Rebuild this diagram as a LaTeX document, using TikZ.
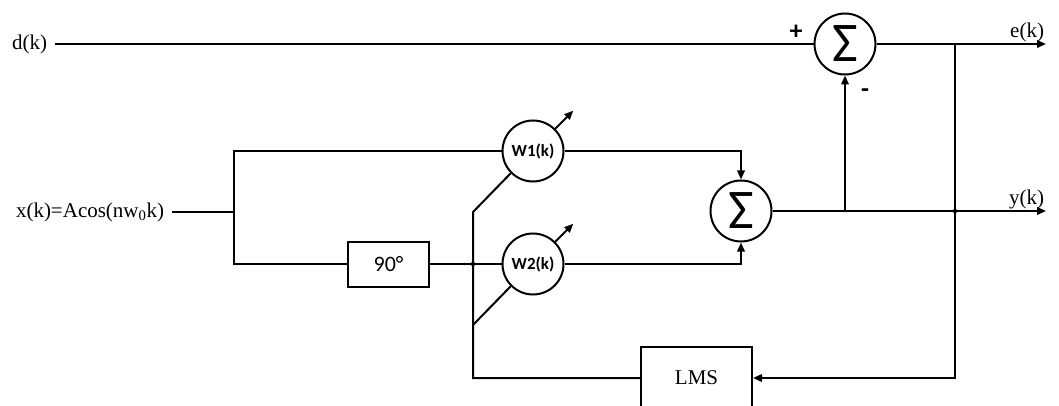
\documentclass[tikz,border=0pt]{standalone}
\usepackage{fontspec}
\setmainfont{Liberation Serif}
\newfontfamily\calib{Carlito}
\usetikzlibrary{positioning, arrows.meta}

\begin{document}
\begin{tikzpicture}[x=1pt, y=1pt, line width=2pt, >={Triangle[length=9pt, width=7.5pt]},
    sumnode/.style={circle, draw, minimum size=61pt, inner sep=0pt, font=\calib\fontsize{56}{56}\selectfont},
    wnode/.style={circle, draw, minimum size=61pt, inner sep=0pt, font=\calib\bfseries\fontsize{17}{17}\selectfont},
    blockbox/.style={rectangle, draw, inner sep=0pt},
    insig/.style={font=\fontsize{21}{21}\selectfont, inner xsep=7pt, inner ysep=2pt, anchor=east},
    outsig/.style={font=\fontsize{21}{21}\selectfont, inner sep=1pt, anchor=south east},
    signlbl/.style={font=\calib\bfseries\fontsize{26}{26}\selectfont, inner sep=0pt},
    junc/.style={circle, fill, inner sep=0pt, minimum size=4.5pt}]

    \useasboundingbox (0,0) rectangle (1059,-406);

    % Sumadores, pesos y bloques
    \node[sumnode] (sumE) at (845,-44) {Σ};
    \node[sumnode] (sumY) at (741,-211) {Σ};
    \node[wnode] (W1) at (533,-151) {W1(k)};
    \node[wnode] (W2) at (533,-264) {W2(k)};
    \node[blockbox, minimum width=81pt, minimum height=45pt, font=\calib\fontsize{22}{22}\selectfont] (shift) at (388.5,-264) {90°};
    \node[blockbox, minimum width=111pt, minimum height=62pt, font=\fontsize{21}{21}\selectfont] (lms) at (696.5,-378) {LMS};

    % Entradas y salidas
    \node[insig] (dk) at (55,-44) {d(k)};
    \node[insig] (xk) at (172,-212) {x(k)=Acos(nw\textsubscript{0}k)};
    \coordinate (split) at (234,-212);
    \coordinate (tap) at (473,-264);
    \coordinate (adj1) at (473,-212);
    \coordinate (adj2) at (473,-325);
    \coordinate (ebr) at (955,-44);
    \coordinate (ybr) at (845,-211);
    \coordinate (eout) at (1046,-44);
    \coordinate (yout) at (1046,-211);
    \node[outsig] (ek) at (eout) {e(k)};
    \node[outsig] (yk) at (yout) {y(k)};

    % Signos del sumador de error
    \node[signlbl] (plus) at (796,-32) {+};
    \node[signlbl] (minus) at (865,-93) {-};

    % Rama de referencia y error
    \draw (dk) -- (sumE);
    \draw[->] (sumE) -- (eout);

    % Entrada y desfase de 90
    \draw (xk) -- (split);
    \draw (W1) -- (split |- W1) -- (split |- shift) -- (shift);
    \draw (shift) -- (W2);

    % Salida del combinador
    \draw[->] (W1) -| (sumY);
    \draw[->] (W2) -| (sumY);
    \draw[->] (sumY) -- (yout);
    \draw[->] (ybr) -- (sumE);

    % Lazo de adaptacion
    \draw[->] (ebr) -- (ebr |- lms) -- (lms);
    \draw (lms) -| (adj1) -- (W1.south west);
    \draw (adj2) -- (W2.south west);
    \draw[->] (W1.north east) -- ++(18,18);
    \draw[->] (W2.north east) -- ++(18,18);
    \node[junc] at (tap) {};
    \node[junc] at (ebr |- sumY) {};
\end{tikzpicture}
\end{document}
